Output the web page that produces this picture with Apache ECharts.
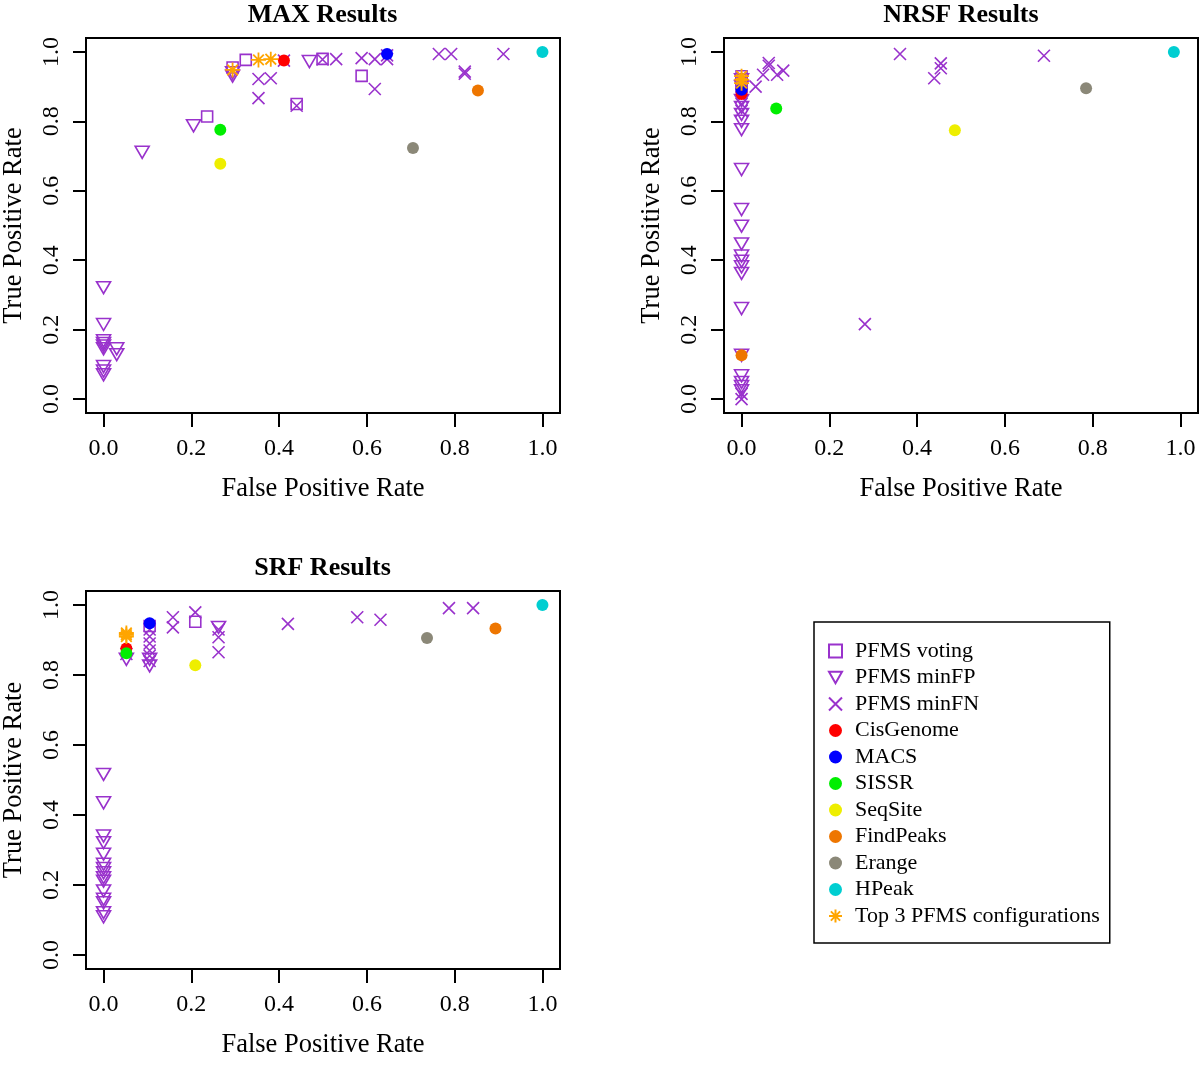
<!DOCTYPE html>
<html><head><meta charset="utf-8">
<script src="https://cdn.jsdelivr.net/npm/echarts@6/dist/echarts.min.js"></script>
<style>html,body{margin:0;padding:0;background:#fff}#c{width:1200px;height:1076px}</style>
</head><body><div id="c"></div>
<script>
// ---------- data ----------
const panelTitles = ['MAX Results', 'NRSF Results', 'SRF Results'];
const tickValues = [0, 0.2, 0.4, 0.6, 0.8, 1.0];
const xAxisTitle = 'False Positive Rate';
const yAxisTitle = 'True Positive Rate';

const pfmsNames = ['PFMS voting', 'PFMS minFP', 'PFMS minFN'];
const toolNames = ['CisGenome', 'MACS', 'SISSR', 'SeqSite', 'FindPeaks', 'Erange', 'HPeak'];
const topName = 'Top 3 PFMS configurations';

// MAX
const maxVoting = [[0.236,0.814],[0.294,0.955],[0.324,0.977],[0.44,0.85],[0.499,0.98],[0.588,0.931]];
const maxMinFP = [[0,0.321],[0,0.215],[0,0.168],[0,0.160],[0,0.153],[0,0.145],[0,0.094],[0,0.081],[0,0.07],
  [0.03,0.145],[0.03,0.128],[0.088,0.711],[0.205,0.787],[0.294,0.94],[0.294,0.93],[0.469,0.972]];
const maxMinFN = [[0.353,0.922],[0.381,0.924],[0.353,0.867],[0.411,0.975],[0.44,0.845],[0.499,0.978],[0.53,0.979],
  [0.588,0.982],[0.618,0.979],[0.646,0.979],[0.646,0.99],[0.618,0.893],[0.764,0.994],[0.792,0.994],
  [0.823,0.943],[0.823,0.937],[0.911,0.994]];
const maxToolX = [0.411, 0.646, 0.266, 0.266, 0.853, 0.705, 1.0];
const maxToolY = [0.975, 0.994, 0.776, 0.678, 0.889, 0.723, 1.0];
const maxTop = [[0.294,0.948],[0.353,0.977],[0.381,0.979]];

// NRSF
const nrsfVoting = [[0,0.93],[0,0.92],[0,0.91],[0,0.90]];
const nrsfMinFP = [[0,0.92],[0,0.90],[0,0.86],[0,0.84],[0,0.82],[0,0.80],[0,0.776],[0,0.661],[0,0.546],[0,0.498],
  [0,0.447],[0,0.412],[0,0.397],[0,0.381],[0,0.362],[0,0.261],[0,0.126],[0,0.067],[0,0.048],[0,0.036],[0,0.024]];
const nrsfMinFN = [[0,0.91],[0,0.89],[0,0.87],[0,0.85],[0,0.83],[0,0.015],[0,0.0],[0.032,0.90],[0.049,0.934],
  [0.062,0.96],[0.062,0.968],[0.081,0.934],[0.095,0.946],[0.281,0.216],[0.361,0.994],[0.454,0.967],
  [0.454,0.953],[0.439,0.924],[0.689,0.989]];
const nrsfToolX = [0, 0, 0.079, 0.486, 0, 0.785, 0.985];
const nrsfToolY = [0.879, 0.891, 0.837, 0.774, 0.126, 0.895, 1.0];
const nrsfTop = [[0,0.93],[0,0.92],[0,0.91]];

// SRF
const srfVoting = [[0.105,0.94],[0.209,0.952]];
const srfMinFP = [[0,0.516],[0,0.435],[0,0.34],[0,0.321],[0,0.288],[0,0.259],[0,0.247],[0,0.235],[0,0.221],
  [0,0.211],[0,0.183],[0,0.159],[0,0.149],[0,0.121],[0,0.109],[0.052,0.845],[0.105,0.845],[0.105,0.826],[0.262,0.936]];
const srfMinFN = [[0.052,0.86],[0.105,0.93],[0.105,0.91],[0.105,0.89],[0.105,0.87],[0.105,0.855],[0.105,0.84],
  [0.158,0.965],[0.158,0.936],[0.209,0.979],[0.262,0.93],[0.262,0.908],[0.262,0.865],[0.42,0.946],
  [0.578,0.965],[0.631,0.958],[0.787,0.991],[0.842,0.991]];
const srfToolX = [0.052, 0.105, 0.052, 0.209, 0.893, 0.737, 1.0];
const srfToolY = [0.876, 0.948, 0.862, 0.828, 0.933, 0.906, 1.0];
const srfTop = [[0.052,0.92],[0.052,0.915],[0.052,0.91]];

// ---------- styles ----------
const PURPLE = '#9932CC';
const toolColors = ['#FF0000', '#0000FF', '#00EE00', '#EEEE00', '#EE7600', '#8B8878', '#00CED1'];
const TOPCOLOR = '#FFA500';
const FONT = '"Liberation Serif", "Times New Roman", serif';
const TICKCOLOR = '#000000';

const SYM_SQUARE = 'path://M0,0L10,0L10,10L0,10Z';
const SYM_TRI = 'path://M0,0L12,0L6,10.4Z';
const SYM_X = 'path://M0,0L10,10M10,0L0,10';
const SYM_CIRCLE = 'circle';
const SYM_STAR = 'path://M5,0L5,10M0,5L10,5M1.46,1.46L8.54,8.54M8.54,1.46L1.46,8.54';

const grids = [
  {left: 85, top: 38, width: 475, height: 375},
  {left: 724, top: 38, width: 474, height: 375},
  {left: 85, top: 591, width: 475, height: 378}
];

const panels = [
  {voting: maxVoting, minFP: maxMinFP, minFN: maxMinFN, tx: maxToolX, ty: maxToolY, top: maxTop},
  {voting: nrsfVoting, minFP: nrsfMinFP, minFN: nrsfMinFN, tx: nrsfToolX, ty: nrsfToolY, top: nrsfTop},
  {voting: srfVoting, minFP: srfMinFP, minFN: srfMinFN, tx: srfToolX, ty: srfToolY, top: srfTop}
];

const xAxes = [], yAxes = [], series = [], graphics = [];
const fmt = v => Number(v).toFixed(1);

grids.forEach((g, i) => {
  xAxes.push({
    gridIndex: i, type: 'value', min: -0.04, max: 1.04,
    name: xAxisTitle, nameLocation: 'middle', nameGap: 63,
    nameTextStyle: {fontFamily: FONT, fontSize: 26.5, color: '#000'},
    axisLine: {show: true, onZero: false, lineStyle: {color: '#000', width: 2}},
    splitLine: {show: false},
    axisTick: {show: true, length: 14, customValues: tickValues, lineStyle: {color: TICKCOLOR, width: 2}},
    axisLabel: {customValues: tickValues, formatter: fmt, margin: 24, fontFamily: FONT, fontSize: 24, color: '#000'}
  });
  yAxes.push({
    gridIndex: i, type: 'value', min: -0.04, max: 1.04,
    name: yAxisTitle, nameLocation: 'middle', nameGap: 58,
    nameTextStyle: {fontFamily: FONT, fontSize: 26.5, color: '#000'},
    axisLine: {show: true, onZero: false, lineStyle: {color: '#000', width: 2}},
    splitLine: {show: false},
    axisTick: {show: true, length: 13, customValues: tickValues, lineStyle: {color: TICKCOLOR, width: 2}},
    axisLabel: {customValues: tickValues, formatter: fmt, rotate: 90, margin: 22, fontFamily: FONT, fontSize: 24, color: '#000'}
  });
  graphics.push({
    type: 'text', x: g.left + g.width / 2, y: g.top - 23,
    style: {text: panelTitles[i], textAlign: 'center', textVerticalAlign: 'middle',
      font: 'bold 26px ' + FONT, fill: '#000'}
  });
  const p = panels[i];
  const hollow = {color: 'rgba(0,0,0,0)', borderColor: PURPLE, borderWidth: 1.6, opacity: 1};
  series.push({type: 'scatter', name: pfmsNames[0], xAxisIndex: i, yAxisIndex: i, data: p.voting,
    symbol: SYM_SQUARE, symbolSize: 11, itemStyle: hollow});
  series.push({type: 'scatter', name: pfmsNames[1], xAxisIndex: i, yAxisIndex: i, data: p.minFP,
    symbol: SYM_TRI, symbolSize: [14, 12], itemStyle: hollow});
  series.push({type: 'scatter', name: pfmsNames[2], xAxisIndex: i, yAxisIndex: i, data: p.minFN,
    symbol: SYM_X, symbolSize: 12, itemStyle: hollow});
  toolNames.forEach((n, k) => {
    series.push({type: 'scatter', name: n, xAxisIndex: i, yAxisIndex: i, data: [[p.tx[k], p.ty[k]]],
      symbol: SYM_CIRCLE, symbolSize: 12, itemStyle: {color: toolColors[k], opacity: 1}});
  });
  series.push({type: 'scatter', name: topName, xAxisIndex: i, yAxisIndex: i, data: p.top,
    symbol: SYM_STAR, symbolSize: 15, itemStyle: {color: 'rgba(0,0,0,0)', borderColor: TOPCOLOR, borderWidth: 1.8, opacity: 1}});
});

const legendNames = pfmsNames.concat(toolNames).concat([topName]);

const chart = echarts.init(document.getElementById('c'), null, {renderer: 'canvas'});
chart.setOption({
  animation: false,
  backgroundColor: '#fff',
  grid: grids.map(g => Object.assign({show: true, borderColor: '#000', borderWidth: 2, backgroundColor: 'transparent'}, g)),
  xAxis: xAxes,
  yAxis: yAxes,
  legend: {
    data: legendNames,
    orient: 'vertical', left: 814, top: 622,
    itemWidth: 13, itemHeight: 13, itemGap: 4.5,
    padding: [18, 10, 16, 14],
    borderColor: '#000', borderWidth: 1.5,
    selectedMode: false,
    textStyle: {fontFamily: FONT, fontSize: 22, color: '#000', padding: [0, 0, 0, 8], lineHeight: 21}
  },
  graphic: graphics,
  series: series
});
</script>
</body></html>
